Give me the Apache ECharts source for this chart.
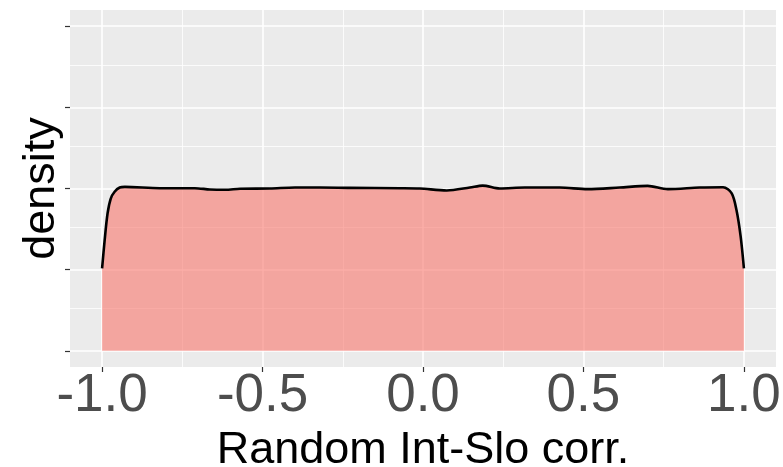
<!DOCTYPE html>
<html>
<head>
<meta charset="utf-8">
<script src="https://cdn.jsdelivr.net/npm/echarts@6/dist/echarts.min.js"></script>
<style>
	html, body { margin: 0; padding: 0; background: #fff; }
	#chart { width: 783px; height: 467px; }
</style>
</head>
<body>
<div id="chart"></div>
<script>
// density curve
const densX = [-1.0, -0.992, -0.983, -0.973, -0.961, -0.945, -0.929, -0.82, -0.711, -0.664,
	-0.617, -0.57, -0.477, -0.399, -0.321, -0.228, -0.072, -0.01, 0.074, 0.146,
	0.186, 0.239, 0.317, 0.426, 0.513, 0.613, 0.70, 0.763, 0.862, 0.935,
	0.962, 0.977, 0.99, 1.0];
const densY = [0.254, 0.341, 0.423, 0.469, 0.49, 0.503, 0.505, 0.501, 0.501, 0.497,
	0.496, 0.499, 0.500, 0.503, 0.503, 0.502, 0.501, 0.500, 0.494, 0.503,
	0.509, 0.500, 0.503, 0.503, 0.498, 0.503, 0.508, 0.498, 0.503, 0.504,
	0.485, 0.433, 0.351, 0.254];

const xTicks = [-1, -0.5, 0, 0.5, 1];
const xMinor = [-0.75, -0.25, 0.25, 0.75];
const yTicks = [0, 0.25, 0.5, 0.75, 1];
const yMinor = [0.125, 0.375, 0.625, 0.875];

const font = "'Liberation Sans', Arial, sans-serif";
const chart = echarts.init(document.getElementById('chart'), null, {renderer: 'canvas'});

const gridLine = (key, v, w) => ({
	[key]: v,
	lineStyle: {color: '#fff', width: w, type: 'solid'}
});
const gridLines = [].concat(
	xMinor.map(v => gridLine('xAxis', v, 0.8)),
	yMinor.map(v => gridLine('yAxis', v, 0.8)),
	xTicks.map(v => gridLine('xAxis', v, 1.6)),
	yTicks.map(v => gridLine('yAxis', v, 1.6))
);

const option = {
	animation: false,
	grid: {
		left: 70, right: 7, top: 10, bottom: 100,
		show: true,
		backgroundColor: '#EBEBEB',
		borderWidth: 0,
		containLabel: false,
		outerBoundsMode: 'none'
	},
	xAxis: {
		type: 'value',
		min: -1.1,
		max: 1.1,
		name: 'Random Int-Slo corr.',
		nameLocation: 'middle',
		nameGap: 51,
		nameTextStyle: {color: '#000', fontSize: 45, fontFamily: font},
		axisLine: {show: false, onZero: false},
		splitLine: {show: false},
		axisTick: {
			show: true, length: 5, customValues: xTicks,
			lineStyle: {color: '#333', width: 1.2}
		},
		axisLabel: {
			customValues: xTicks,
			margin: 3,
			color: '#4D4D4D',
			fontSize: 53,
			fontFamily: font,
			formatter: v => v.toFixed(1)
		}
	},
	yAxis: {
		type: 'value',
		min: -0.05,
		max: 1.05,
		name: 'density',
		nameLocation: 'middle',
		nameGap: 6,
		nameTextStyle: {color: '#000', fontSize: 45, fontFamily: font},
		axisLine: {show: false, onZero: false},
		splitLine: {show: false},
		axisTick: {
			show: true, length: 5, customValues: yTicks,
			lineStyle: {color: '#333', width: 1.2}
		},
		axisLabel: {show: false}
	},
	series: [
		{
			// panel grid, under the fill
			type: 'line',
			z: 1,
			data: [],
			silent: true,
			markLine: {
				z: 1,
				silent: true,
				symbol: 'none',
				label: {show: false},
				data: gridLines
			}
		},
		{
			type: 'line',
			z: 2,
			data: densX.map((x, i) => [x, densY[i]]),
			showSymbol: false,
			smooth: 0.3,
			lineStyle: {color: '#000', width: 2.6},
			areaStyle: {color: '#F8766D', opacity: 0.6, origin: 0}
		}
	]
};
chart.setOption(option);
</script>
</body>
</html>
